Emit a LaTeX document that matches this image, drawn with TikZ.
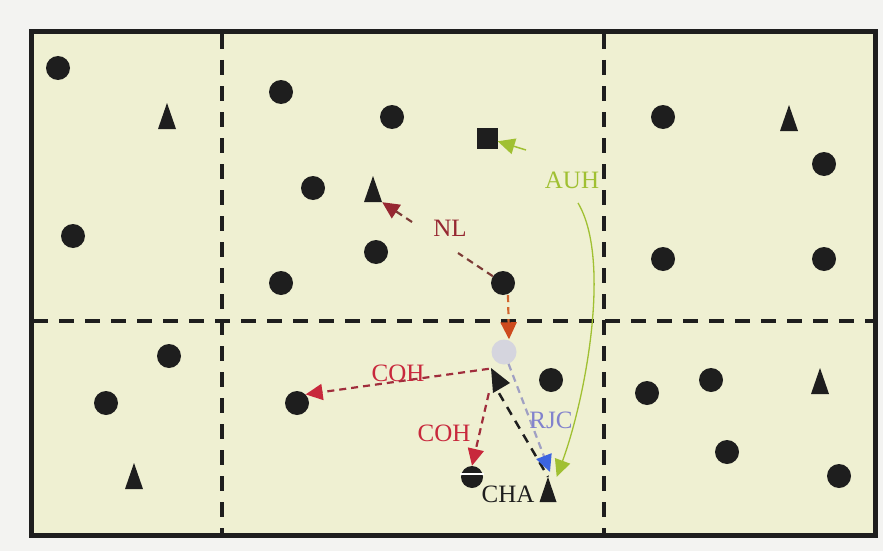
\documentclass[tikz,border=0pt]{standalone}
\usepackage{fontspec}
\setmainfont{Liberation Serif}
\usetikzlibrary{arrows.meta}
\definecolor{bgout}{RGB}{243,243,241}
\definecolor{panel}{RGB}{239,240,210}
\definecolor{ink}{RGB}{30,30,30}
\definecolor{nlred}{RGB}{150,40,50}
\definecolor{nlline}{RGB}{125,60,55}
\definecolor{cohred}{RGB}{200,40,60}
\definecolor{cohline}{RGB}{160,45,60}
\definecolor{auhgreen}{RGB}{160,192,50}
\definecolor{rjctext}{RGB}{130,130,205}
\definecolor{rjcline}{RGB}{160,160,195}
\definecolor{rjcblue}{RGB}{60,100,225}
\definecolor{orangeln}{RGB}{210,100,45}
\definecolor{orangetip}{RGB}{205,75,30}
\definecolor{grayc}{RGB}{213,213,222}
\tikzset{
  dot/.style={circle, fill=ink, minimum size=24pt, inner sep=0pt},
  tri/.style={rectangle, minimum width=18pt, minimum height=26pt, inner sep=0pt,
    path picture={\fill[ink] (path picture bounding box.south west) -- (path picture bounding box.south east) -- (path picture bounding box.north) -- cycle;}},
  sq/.style={rectangle, fill=ink, minimum size=21pt, inner sep=0pt},
  gridline/.style={line width=4pt, draw=ink, dash pattern=on 15pt off 11pt},
  lbl/.style={font=\fontsize{25}{25}\selectfont, anchor=base, inner sep=0pt},
  conn/.style={line width=2.2pt, dash pattern=on 7pt off 5pt},
  tipc/.style={-{Triangle[length=17pt,width=16pt,color=#1]}}
}
\begin{document}
\begin{tikzpicture}[x=1pt,y=-1pt]
\useasboundingbox (0,0) rectangle (883,551);
\fill[bgout] (0,0) rectangle (883,551);
% panel
\filldraw[fill=panel, draw=ink, line width=5pt] (31,32) rectangle (875,535);
\draw[gridline] (222,34) -- (222,533);
\draw[gridline] (604,34) -- (604,533);
\draw[gridline] (33,321) -- (873,321);

% top-left cell
\node[dot] (d1) at (58,68) {};
\node[dot] (d2) at (73,236) {};
\node[tri] (t1) at (167,116) {};
% top-middle cell
\node[dot] (d3) at (281,92) {};
\node[dot] (d4) at (392,117) {};
\node[dot] (d5) at (313,188) {};
\node[dot] (d6) at (376,252) {};
\node[dot] (d7) at (281,283) {};
\node[dot] (dnl) at (503,283) {};
\node[tri] (tnl) at (373,189) {};
\node[sq] (sq) at (487,138) {};
% top-right cell
\node[dot] (d8) at (663,117) {};
\node[dot] (d9) at (824,164) {};
\node[dot] (d10) at (663,259) {};
\node[dot] (d11) at (824,259) {};
\node[tri] (t2) at (789,118) {};
% bottom-left cell
\node[dot] (d12) at (169,356) {};
\node[dot] (d13) at (106,403) {};
\node[tri] (t3) at (134,476) {};
% bottom-middle cell
\node[dot] (dcoh) at (297,403) {};
\node[dot] (d14) at (551,380) {};
\node[circle, fill=grayc, minimum size=25pt, inner sep=0pt] (gc) at (504,352) {};
\node[dot, minimum size=22pt] (dhalf) at (472,477) {};
\draw[white, line width=1.8pt] ([xshift=-12pt]dhalf.center) ++(0,-3) -- ++(24,0);
\node[tri, minimum width=17pt, minimum height=25pt] (tcha) at (548,489.5) {};
\node[inner sep=0pt, minimum width=20pt, minimum height=24pt] (rt) at (499,381) {};
\fill[ink] (491,368) -- (510,383) -- (493,393) -- cycle;
% bottom-right cell
\node[dot] (d15) at (647,393) {};
\node[dot] (d16) at (711,380) {};
\node[dot] (d17) at (727,452) {};
\node[dot] (d18) at (839,476) {};
\node[tri] (t4) at (820,381) {};

% connectors
\coordinate (nlA) at (458,253);
\coordinate (nlB) at (412,222);
\draw[conn, nlline] (dnl) -- (nlA);
\draw[conn, nlline, tipc=nlred] (nlB) -- (tnl.south east);

\draw[conn, orangeln, tipc=orangetip] ([xshift=5pt]dnl.south) -- ([xshift=5pt]gc.north);

\draw[conn, cohline, tipc=cohred] (rt.north west) -- (dcoh.north east);
\draw[conn, cohline, tipc=cohred] (rt.south west) -- (dhalf.north);

\draw[conn, ink, line width=2.5pt, dash pattern=on 9pt off 7pt] (rt.south) -- (tcha.north);

\coordinate (rjcE) at (550,472);
\draw[conn, rjcline, tipc=rjcblue] (gc) -- (rjcE);

\coordinate (auhS) at (526,150);
\draw[line width=1.5pt, auhgreen, tipc=auhgreen] (auhS) -- (sq);
\coordinate (auhA) at (578,203);
\draw[line width=1.3pt, auhgreen, tipc=auhgreen] (auhA) .. controls (612,260) and (585,400) .. (tcha.north east);

% labels
\node[lbl, text=nlred] (lnl) at (450,236) {NL};
\node[lbl, text=auhgreen] (lauh) at (572,188) {AUH};
\node[lbl, text=cohred] (lcoh1) at (398,381) {COH};
\node[lbl, text=cohred] (lcoh2) at (444,441) {COH};
\node[lbl, text=rjctext] (lrjc) at (551,428) {RJC};
\node[lbl, text=ink] (lcha) at (508,502) {CHA};
\end{tikzpicture}
\end{document}
